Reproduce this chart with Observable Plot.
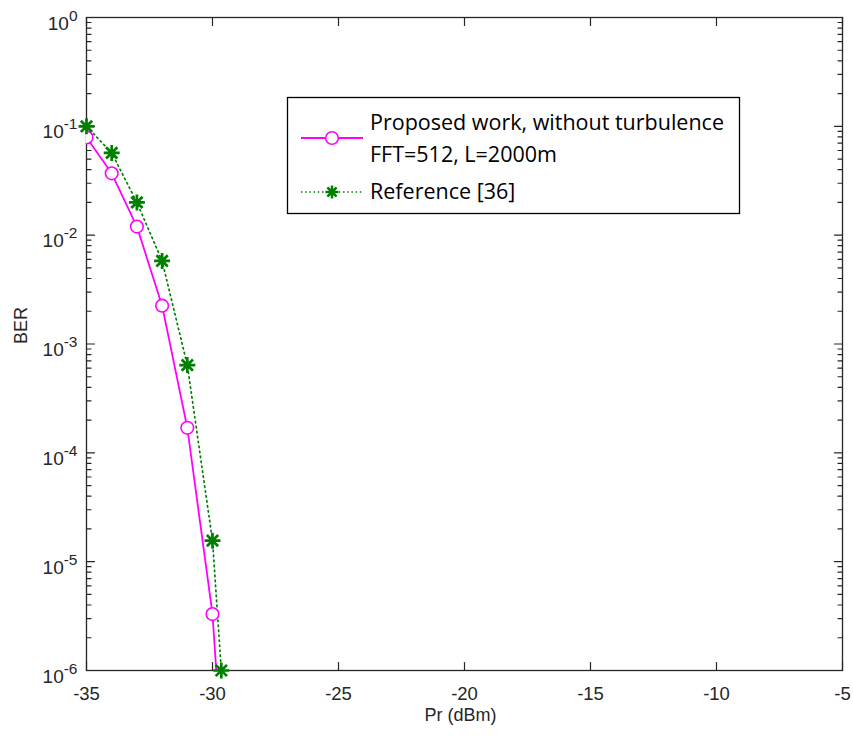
<!DOCTYPE html>
<html><head><meta charset="utf-8">
<script src="https://cdn.jsdelivr.net/npm/d3@7"></script>
<script src="https://cdn.jsdelivr.net/npm/@observablehq/plot@0.6"></script>
<style>
body{margin:0;background:#fff;}
#wrap{position:relative;width:853px;height:736px;}
#legend{position:absolute;left:0;top:0;pointer-events:none;}
</style></head><body><div id="wrap"></div>
<script>
// ---- data ----
const prProposed = [-35, -34, -33, -32, -31, -30, -29];
const berProposed = [0.079, 0.037, 0.012, 0.00225, 1.7e-4, 3.3e-6, 1.1e-9];
const prReference = [-35, -34, -33, -32, -31, -30, -29.65];
const berReference = [0.1, 0.057, 0.02, 0.0058, 6.4e-4, 1.56e-5, 1e-6];
const xDomain = [-35, -5];
const yDomain = [1e-6, 1];
const xTicks = [-35, -30, -25, -20, -15, -10, -5];
const yTicks = [1e-6, 1e-5, 1e-4, 1e-3, 1e-2, 1e-1, 1];
const legendLines = ["Proposed work, without turbulence", "FFT=512, L=2000m", "Reference [36]"];
const xLabel = ["Pr (dBm)"];
const yLabel = ["BER"];

const yMinor = [];
for (let e = -6; e < 0; e++) for (let m = 2; m <= 9; m++) yMinor.push(m * Math.pow(10, e));

const proposed = prProposed.map((x, i) => ({x, y: berProposed[i]}));
const reference = prReference.map((x, i) => ({x, y: berReference[i]}));

const axisColor = "#262626";
const magenta = "#ff00ff";
const green = "#008000";
const tickShape = {draw(ctx, l) { ctx.moveTo(0, 0); ctx.lineTo(0, -l); }};
const star = {draw(ctx, size) {
  const r = Math.sqrt(size / Math.PI), d = r * Math.SQRT1_2;
  ctx.moveTo(-r, 0); ctx.lineTo(r, 0);
  ctx.moveTo(0, -r); ctx.lineTo(0, r);
  ctx.moveTo(-d, -d); ctx.lineTo(d, d);
  ctx.moveTo(-d, d); ctx.lineTo(d, -d);
}};

const chart = Plot.plot({
  width: 853, height: 736,
  marginLeft: 86, marginRight: 11, marginTop: 17, marginBottom: 66,
  style: {fontFamily: "'Liberation Sans', Arial, sans-serif", fontSize: "18px", color: axisColor, background: "#fff"},
  x: {domain: xDomain},
  y: {type: "log", domain: yDomain},
  marks: [
    Plot.axisX(xTicks, {anchor: "bottom", tickSize: 0, tickPadding: 16, fontSize: 18.5, label: null, tickFormat: d => String(d)}),
    Plot.axisY(yTicks, {anchor: "left", tickSize: 0, tickPadding: 9, fontSize: 19, dy: 6, label: null,
      tickFormat: d => `10^${Math.round(Math.log10(d))}`}),
    Plot.vector(xTicks, {x: d => d, y: () => yDomain[0], length: 8, rotate: 0, anchor: "start", shape: tickShape, stroke: axisColor, strokeWidth: 1.2}),
    Plot.vector(xTicks, {x: d => d, y: () => yDomain[1], length: 8, rotate: 180, anchor: "start", shape: tickShape, stroke: axisColor, strokeWidth: 1.2}),
    Plot.vector(yTicks, {y: d => d, x: () => xDomain[0], length: 8, rotate: 90, anchor: "start", shape: tickShape, stroke: axisColor, strokeWidth: 1.2}),
    Plot.vector(yTicks, {y: d => d, x: () => xDomain[1], length: 8, rotate: -90, anchor: "start", shape: tickShape, stroke: axisColor, strokeWidth: 1.2}),
    Plot.vector(yMinor, {y: d => d, x: () => xDomain[0], length: 4.5, rotate: 90, anchor: "start", shape: tickShape, stroke: axisColor, strokeWidth: 1.2}),
    Plot.vector(yMinor, {y: d => d, x: () => xDomain[1], length: 4.5, rotate: -90, anchor: "start", shape: tickShape, stroke: axisColor, strokeWidth: 1.2}),
    Plot.frame({stroke: axisColor, strokeWidth: 1.3}),
    Plot.line(reference, {x: "x", y: "y", stroke: green, strokeWidth: 1.7, strokeDasharray: "1.5,3.5", clip: true}),
    Plot.line(proposed, {x: "x", y: "y", stroke: magenta, strokeWidth: 1.8, clip: true}),
    Plot.dot(proposed, {x: "x", y: "y", r: 6.3, stroke: magenta, fill: "white", strokeWidth: 1.6, clip: true}),
    Plot.dot(reference, {x: "x", y: "y", symbol: star, r: 8, stroke: green, fill: "none", strokeWidth: 2.7}),
    Plot.text(xLabel, {text: d => d, frameAnchor: "bottom", dy: 50, dx: -4, lineAnchor: "bottom", fontSize: 18, fill: axisColor}),
    Plot.text(yLabel, {text: d => d, frameAnchor: "left", dx: -65, rotate: -90, fontSize: 18, fill: axisColor})
  ]
});

// superscript exponents on the log axis labels
d3.select(chart).selectAll('g[aria-label="y-axis tick label"] text').each(function() {
  const parts = this.textContent.split("^");
  const s = d3.select(this);
  s.text(parts[0]);
  s.append("tspan").attr("dy", "-9px").attr("font-size", "15.5px").text(parts[1]);
});

const wrap = document.getElementById("wrap");
wrap.appendChild(chart);

// legend box (inside the axes, top right)
const lg = d3.select(wrap).append("svg").attr("id", "legend").attr("width", 853).attr("height", 736);
const bx = 287, by = 97, bw = 452, bh = 116;
lg.append("rect").attr("x", bx + 0.5).attr("y", by + 0.5).attr("width", bw).attr("height", bh)
  .attr("fill", "#fff").attr("stroke", "#000").attr("stroke-width", 1.3);
const sx1 = bx + 14, sx2 = bx + 76, sxm = bx + 45;
lg.append("line").attr("x1", sx1).attr("x2", sx2).attr("y1", by + 41).attr("y2", by + 41).attr("stroke", magenta).attr("stroke-width", 1.8);
lg.append("circle").attr("cx", sxm).attr("cy", by + 41).attr("r", 6.3).attr("fill", "#fff").attr("stroke", magenta).attr("stroke-width", 1.6);
lg.append("line").attr("x1", sx1).attr("x2", sx2).attr("y1", by + 95).attr("y2", by + 95).attr("stroke", green).attr("stroke-width", 1.7).attr("stroke-dasharray", "1.5,2.7");
lg.append("path").attr("transform", `translate(${sxm},${by + 95})`).attr("d", d3.symbol(star, Math.PI * 6.5 * 6.5)()).attr("fill", "none").attr("stroke", green).attr("stroke-width", 2.5);
const tf = "'Open Sans', Lato, sans-serif";
[[legendLines[0], 33], [legendLines[1], 65], [legendLines[2], 102]].forEach(([t, yy]) => {
  lg.append("text").attr("x", bx + 83).attr("y", by + yy).attr("font-family", tf).attr("font-size", 21.5).attr("fill", "#000").text(t);
});
</script></body></html>
